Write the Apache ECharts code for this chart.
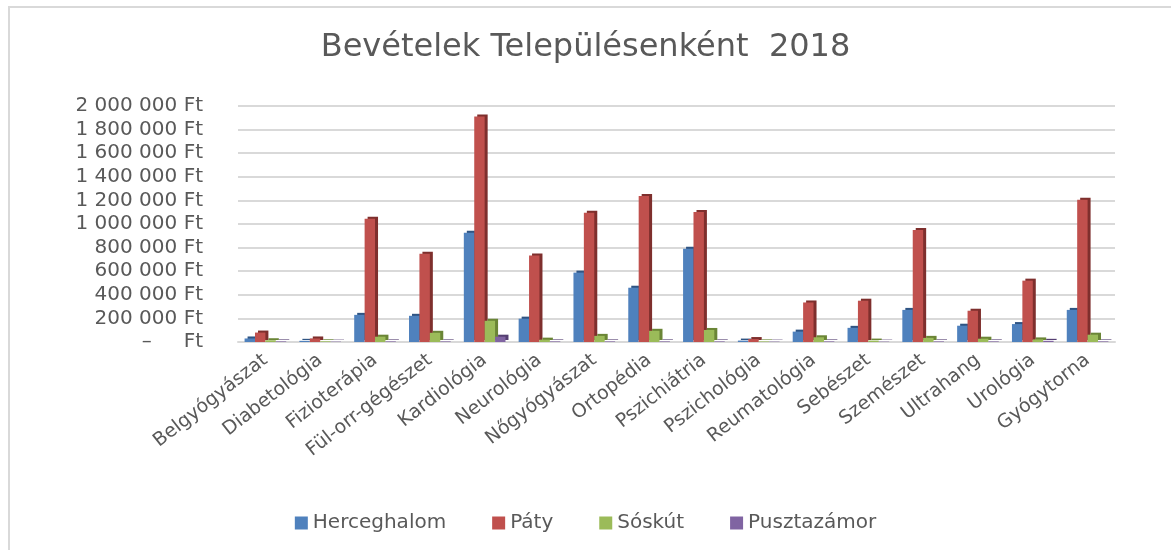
<!DOCTYPE html>
<html>
<head>
<meta charset="utf-8">
<script src="https://cdn.jsdelivr.net/npm/echarts@6/dist/echarts.min.js"></script>
<style>html,body{margin:0;padding:0;background:#fff}#main{width:1171px;height:550px}</style>
</head>
<body>
<div id="main"></div>
<script>
const categories = ["Belgyógyászat","Diabetológia","Fizioterápia","Fül-orr-gégészet","Kardiológia","Neurológia","Nőgyógyászat","Ortopédia","Pszichiátria","Pszichológia","Reumatológia","Sebészet","Szemészet","Ultrahang","Urológia","Gyógytorna"];
const herceghalom = [30000, 10000, 230000, 222000, 925000, 198000, 588000, 460000, 790000, 12000, 88000, 120000, 272000, 138000, 152000, 272000];
const paty = [80000, 30000, 1045000, 748000, 1910000, 732000, 1095000, 1238000, 1102000, 25000, 335000, 350000, 950000, 265000, 520000, 1205000];
const soskut = [15000, 6000, 45000, 78000, 180000, 20000, 52000, 95000, 102000, 5000, 40000, 12000, 35000, 28000, 22000, 62000];
const pusztazamor = [5000, 3000, 5000, 5000, 45000, 5000, 5000, 5000, 5000, 3000, 5000, 3000, 5000, 5000, 10000, 5000];
const yTicks = [0, 200000, 400000, 600000, 800000, 1000000, 1200000, 1400000, 1600000, 1800000, 2000000];

const mainEl = document.getElementById("main");
let charts = echarts.init(mainEl);

const fmt = (v) => {
    if (v === 0) return "–     Ft";
    return String(v).replace(/\B(?=(\d{3})+(?!\d))/g, " ") + " Ft";
};

// 3D-ish look: flat bar plus a darker offset copy as shadow
const mkSeries = (name, data, color, dark) => ({
    name: name,
    type: "bar",
    data: data,
    barGap: "0%",
    barCategoryGap: "24%",
    itemStyle: {
        color: color,
        shadowColor: dark,
        shadowOffsetX: 3,
        shadowOffsetY: -2,
        shadowBlur: 0
    }
});

const option = {
    animation: false,
    textStyle: { fontFamily: "DejaVu Sans" },
    title: {
        text: "Bevételek Településenként  2018",
        left: "center",
        top: 27,
        textStyle: { fontSize: 32, fontWeight: "normal", color: "#595959", fontFamily: "DejaVu Sans" }
    },
    graphic: [{
        type: "rect",
        shape: { x: 9, y: 7, width: 1300, height: 700 },
        style: { fill: null, stroke: "#d9d9d9", lineWidth: 2 },
        silent: true
    }],
    legend: {
        data: ["Herceghalom", "Páty", "Sóskút", "Pusztazámor"],
        top: 508,
        left: "center",
        icon: "rect",
        itemWidth: 13,
        itemHeight: 13,
        itemGap: 46,
        textStyle: { fontSize: 20, color: "#595959", fontFamily: "DejaVu Sans" }
    },
    grid: { left: 238, right: 56, top: 106, bottom: 208, containLabel: false },
    xAxis: {
        type: "category",
        data: categories,
        axisLine: { show: true, lineStyle: { color: "#d9d9d9", width: 2 } },
        axisTick: { show: false },
        axisLabel: { rotate: 38, margin: 16, interval: 0, fontSize: 19, color: "#595959", fontFamily: "DejaVu Sans" }
    },
    yAxis: {
        type: "value",
        min: yTicks[0],
        max: yTicks[yTicks.length - 1],
        interval: 200000,
        axisLine: { show: false },
        axisTick: { show: false },
        splitLine: { lineStyle: { color: "#d9d9d9", width: 2 } },
        axisLabel: { formatter: fmt, margin: 35, fontSize: 20, color: "#595959", fontFamily: "DejaVu Sans" }
    },
    series: [
        mkSeries("Herceghalom", herceghalom, "#4F81BD", "#2f5483"),
        mkSeries("Páty", paty, "#C0504D", "#7e2f2d"),
        mkSeries("Sóskút", soskut, "#9BBB59", "#6a8536"),
        mkSeries("Pusztazámor", pusztazamor, "#8064A2", "#553f72")
    ]
};

charts.setOption(option);
</script>
</body>
</html>
